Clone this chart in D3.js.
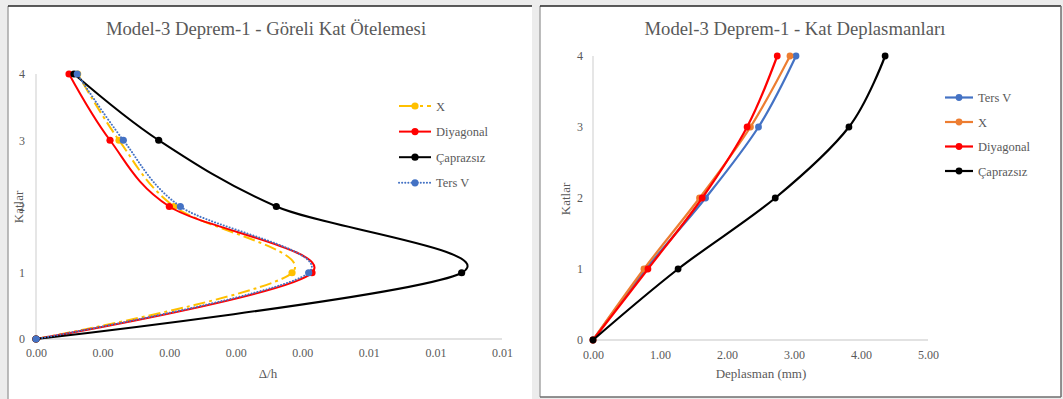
<!DOCTYPE html>
<html>
<head>
<meta charset="utf-8">
<script src="https://cdn.jsdelivr.net/npm/d3@7"></script>
<style>
  html, body { margin: 0; padding: 0; background: #ececec; }
  svg { display: block; }
  text { font-family: "Liberation Serif", "Times New Roman", serif; fill: #595959; }
</style>
</head>
<body>
<svg id="chart" width="1063" height="399"></svg>
<script>
// Floors (Katlar)
const floors = [0, 1, 2, 3, 4];

// Relative storey drift (Δ/h) per floor
const driftX = [0, 0.003846, 0.002073, 0.001247, 0.000626];
const driftDiyagonal = [0, 0.004146, 0.002003, 0.001112, 0.000496];
const driftCaprazsiz = [0, 0.006394, 0.003610, 0.001843, 0.000571];
const driftTersV = [0, 0.004096, 0.002168, 0.001312, 0.000620];

// Storey displacement (mm) per floor
const dispTersV = [0, 0.79, 1.68, 2.47, 3.03];
const dispX = [0, 0.76, 1.59, 2.35, 2.94];
const dispDiyagonal = [0, 0.82, 1.63, 2.30, 2.75];
const dispCaprazsiz = [0, 1.27, 2.72, 3.82, 4.36];

// Tick values and labels
const driftTicks = [0, 0.001, 0.002, 0.003, 0.004, 0.005, 0.006, 0.007];
const driftTickLabels = ["0.00", "0.00", "0.00", "0.00", "0.00", "0.01", "0.01", "0.01"];
const dispTicks = [0, 1, 2, 3, 4, 5];
const floorTicks = [0, 1, 2, 3, 4];

const svg = d3.select("#chart");

// Panel frames
function panel(x0, y0, x1, y1, withRightBottom) {
  svg.append("rect").attr("x", x0).attr("y", y0).attr("width", x1 - x0).attr("height", y1 - y0).attr("fill", "#fff");
  svg.append("line").attr("x1", x0).attr("x2", x0).attr("y1", y0).attr("y2", y1).attr("stroke", "#a6a6a6").attr("stroke-width", 1.5);
  svg.append("line").attr("x1", x0).attr("x2", x1).attr("y1", y0).attr("y2", y0).attr("stroke", "#262626").attr("stroke-width", 1.5);
  if (withRightBottom) {
    svg.append("line").attr("x1", x1).attr("x2", x1).attr("y1", y0).attr("y2", y1).attr("stroke", "#6e6e6e").attr("stroke-width", 1.5);
    svg.append("line").attr("x1", x0).attr("x2", x1).attr("y1", y1).attr("y2", y1).attr("stroke", "#6e6e6e").attr("stroke-width", 1.5);
  }
}
panel(8, 6, 532, 399, false);
panel(540, 6, 1061, 397, true);

const curve = d3.curveCardinal.tension(0);

function drawChart(cfg) {
  const g = svg.append("g");
  const x = d3.scaleLinear().domain(cfg.xDomain).range(cfg.xRange);
  const y = d3.scaleLinear().domain([0, 4]).range(cfg.yRange);

  // title
  g.append("text").attr("x", cfg.titleX).attr("y", cfg.titleY).attr("text-anchor", "middle")
    .style("font-size", "18.7px").text(cfg.title);

  // axes
  const xAxis = d3.axisBottom(x).tickValues(cfg.xTicks).tickSize(0).tickPadding(cfg.xPad)
    .tickFormat((d, i) => cfg.xLabels ? cfg.xLabels[i] : d3.format(".2f")(d));
  const xg = g.append("g").attr("transform", `translate(0,${y(0)})`).call(xAxis);
  xg.select(".domain").attr("stroke", "#d9d9d9").attr("stroke-width", 1.3)
    .attr("d", `M${x(cfg.xDomain[0])},0H${cfg.xRange[1]}`);
  xg.selectAll("text").style("font-size", "12px").style("fill", "#595959").attr("font-family", null);

  const yAxis = d3.axisLeft(y).tickValues(floorTicks).tickSize(0).tickPadding(cfg.yPad).tickFormat(d3.format("d"));
  const yg = g.append("g").attr("transform", `translate(${x(0)},0)`).call(yAxis);
  yg.select(".domain").attr("stroke", "#d9d9d9").attr("stroke-width", 1.3)
    .attr("d", `M0,${y(0)}V${y(4)}`);
  yg.selectAll("text").style("font-size", "12px").style("fill", "#595959").attr("font-family", null)
    .attr("text-anchor", "middle").attr("dx", 0);

  // axis titles
  g.append("text").attr("x", cfg.xTitleX).attr("y", cfg.xTitleY).attr("text-anchor", "middle")
    .style("font-size", "13px").text(cfg.xTitle);
  g.append("text").attr("transform", `translate(${cfg.yTitleX},${cfg.yTitleY}) rotate(-90)`)
    .attr("text-anchor", "middle").style("font-size", "13px").text("Katlar");

  const line = d3.line().x(d => x(d[0])).y(d => y(d[1])).curve(curve);

  cfg.series.forEach(s => {
    const pts = s.values.map((v, i) => [v, floors[i]]);
    g.append("path").datum(pts).attr("d", line).attr("fill", "none")
      .attr("stroke", s.color).attr("stroke-width", s.width)
      .attr("stroke-dasharray", s.dash || null)
      .attr("stroke-linecap", s.cap || "butt");
    g.selectAll(null).data(pts).enter().append("circle")
      .attr("cx", d => x(d[0])).attr("cy", d => y(d[1])).attr("r", cfg.r).attr("fill", s.color);
  });

  // legend
  const leg = g.append("g");
  cfg.legendOrder.forEach((idx, k) => {
    const s = cfg.series[idx];
    const ly = cfg.legY + k * cfg.legStep;
    leg.append("line").attr("x1", cfg.legX).attr("x2", cfg.legX + cfg.legLen).attr("y1", ly).attr("y2", ly)
      .attr("stroke", s.color).attr("stroke-width", s.width).attr("stroke-dasharray", s.legDash || s.dash || null)
      .attr("stroke-linecap", s.cap || "butt");
    leg.append("circle").attr("cx", cfg.legX + cfg.legLen / 2).attr("cy", ly).attr("r", cfg.r).attr("fill", s.color);
    leg.append("text").attr("x", cfg.legX + cfg.legLen + 5).attr("y", ly + 4.5).style("font-size", "12.5px").text(s.name);
  });
}

drawChart({
  title: "Model-3 Deprem-1 - Göreli Kat Ötelemesi",
  titleX: 266, titleY: 35,
  xDomain: [0, 0.007], xRange: [36, 502], yRange: [339, 74],
  xTicks: driftTicks, xLabels: driftTickLabels, xPad: 9, yPad: 14,
  xTitle: "Δ/h", xTitleX: 268, xTitleY: 378,
  yTitleX: 23, yTitleY: 207,
  r: 3.6,
  series: [
    { name: "X", values: driftX, color: "#FFC000", width: 2, dash: "12,4,3,4", legDash: "17,4,3,4" },
    { name: "Diyagonal", values: driftDiyagonal, color: "#FF0000", width: 2 },
    { name: "Çaprazsız", values: driftCaprazsiz, color: "#000000", width: 2 },
    { name: "Ters V", values: driftTersV, color: "#4472C4", width: 2, dash: "0.1,3", cap: "round" }
  ],
  legendOrder: [0, 1, 2, 3],
  legX: 399, legLen: 32, legY: 106, legStep: 25.6
});

drawChart({
  title: "Model-3 Deprem-1 - Kat Deplasmanları",
  titleX: 795, titleY: 35,
  xDomain: [0, 5], xRange: [593, 928], yRange: [340, 56],
  xTicks: dispTicks, xPad: 10, yPad: 13,
  xTitle: "Deplasman (mm)", xTitleX: 761, xTitleY: 378,
  yTitleX: 570, yTitleY: 199,
  r: 3.4,
  series: [
    { name: "Ters V", values: dispTersV, color: "#4472C4", width: 2.2 },
    { name: "X", values: dispX, color: "#ED7D31", width: 2.2 },
    { name: "Diyagonal", values: dispDiyagonal, color: "#FF0000", width: 2.2 },
    { name: "Çaprazsız", values: dispCaprazsiz, color: "#000000", width: 2.2 }
  ],
  legendOrder: [0, 1, 2, 3],
  legX: 945, legLen: 28, legY: 97.5, legStep: 24.5
});
</script>
</body>
</html>
